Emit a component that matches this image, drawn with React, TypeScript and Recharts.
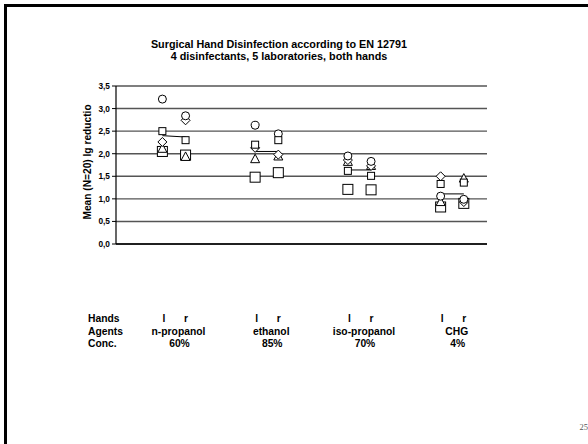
import React from 'react';
import { ScatterChart, Scatter, XAxis, YAxis, CartesianGrid } from 'recharts';

// ---- data ----
const agents = ['n-propanol', 'ethanol', 'iso-propanol', 'CHG'];
const concentrations = ['60%', '85%', '70%', '4%'];
const hands = ['l', 'r'];
const yTicks = [0, 0.5, 1, 1.5, 2, 2.5, 3, 3.5];

// values per agent: [left hand, right hand]
const labCircle = [[3.21, 2.84], [2.63, 2.44], [1.95, 1.83], [1.06, 0.99]];
const labSmallSquare = [[2.5, 2.3], [2.2, 2.3], [1.62, 1.51], [1.33, 1.36]];
const labDiamond = [[2.26, 2.74], [2.13, 1.98], [1.86, 1.73], [1.5, 0.93]];
const labTriangle = [[2.12, 1.94], [1.89, 1.95], [1.83, 1.74], [0.94, 1.46]];
const labBigSquare = [[2.05, 1.97], [1.48, 1.58], [1.21, 1.2], [0.82, 0.9]];
const meanValues = [[2.4, 2.37], [2.05, 2.05], [1.64, 1.64], [1.11, 1.11]];

// ---- layout ----
const HAND_POS = [0.5, 0.75];
const FONT = '"Liberation Sans", Arial, Helvetica, sans-serif';

const toPoints = (vals: number[][]) =>
  vals.flatMap((pair, gi) => pair.map((v, hi) => ({ x: gi + HAND_POS[hi], y: v })));

const segment = (gi: number) =>
  meanValues[gi].map((v, hi) => ({ x: gi + HAND_POS[hi], y: v }));

const S = { stroke: '#000', strokeWidth: 1, fill: '#fff' };

const CircleShape = (p: any) => <circle cx={p.cx} cy={p.cy} r={4} {...S} />;
const SmallSquareShape = (p: any) => (
  <rect x={p.cx - 3.5} y={p.cy - 3.5} width={7} height={7} {...S} />
);
const BigSquareShape = (p: any) => (
  <rect x={p.cx - 5} y={p.cy - 5} width={10} height={10} {...S} />
);
const DiamondShape = (p: any) => (
  <polygon
    points={`${p.cx},${p.cy - 4.5} ${p.cx + 4.5},${p.cy} ${p.cx},${p.cy + 4.5} ${p.cx - 4.5},${p.cy}`}
    {...S}
  />
);
const TriangleShape = (p: any) => (
  <polygon
    points={`${p.cx},${p.cy - 4.5} ${p.cx + 4.5},${p.cy + 4} ${p.cx - 4.5},${p.cy + 4}`}
    {...S}
  />
);
const NoShape = () => <g />;

const GroupTick = (p: any) => {
  const x = p.x;
  const gi = Math.round(p.payload.value - 0.625);
  const common = { fontFamily: FONT, fontWeight: 700, fontSize: 10.3, fill: '#000', textAnchor: 'middle' as const };
  return (
    <g>
      <text x={x - 10} y={322} {...common}>{hands[0]}</text>
      <text x={x + 12} y={322} {...common}>{hands[1]}</text>
      <text x={x + 4.5} y={334.5} {...common}>{agents[gi]}</text>
      <text x={x + 5.5} y={346.5} {...common}>{concentrations[gi]}</text>
    </g>
  );
};

export default function App() {
  return (
    <div style={{ position: 'absolute', left: 0, top: 0, width: 588, height: 444, overflow: 'hidden', background: '#fff' }}>
      <div
        style={{
          position: 'absolute', left: 4, top: 4, width: 800, height: 800,
          border: '3px solid #000', boxSizing: 'border-box',
        }}
      />
      <div style={{ position: 'absolute', left: 0, top: 0 }}>
        <ScatterChart width={588} height={444} margin={{ top: 86, right: 101, bottom: 100, left: 86 }}>
          <CartesianGrid horizontal vertical={false} stroke="#555" strokeWidth={1.4} />
          <XAxis
            type="number"
            dataKey="x"
            domain={[0, 4]}
            ticks={[0.625, 1.625, 2.625, 3.625]}
            tick={<GroupTick />}
            tickLine={false}
            tickSize={0}
            height={100}
            axisLine={{ stroke: '#000', strokeWidth: 1.4 }}
            interval={0}
          />
          <YAxis
            type="number"
            dataKey="y"
            domain={[0, 3.5]}
            ticks={yTicks}
            width={30}
            interval={0}
            tickFormatter={(v: number) => v.toFixed(1).replace('.', ',')}
            tick={{ fontFamily: FONT, fontWeight: 700, fontSize: 8.3, fill: '#000' }}
            tickLine={{ stroke: '#000' }}
            tickSize={4}
            axisLine={{ stroke: '#000', strokeWidth: 1.2 }}
          />
          {agents.map((a, gi) => (
            <Scatter
              key={a}
              data={segment(gi)}
              line={{ stroke: '#000', strokeWidth: 1 }}
              shape={NoShape}
              isAnimationActive={false}
            />
          ))}
          <Scatter data={toPoints(labBigSquare)} shape={BigSquareShape} isAnimationActive={false} />
          <Scatter data={toPoints(labTriangle)} shape={TriangleShape} isAnimationActive={false} />
          <Scatter data={toPoints(labDiamond)} shape={DiamondShape} isAnimationActive={false} />
          <Scatter data={toPoints(labCircle)} shape={CircleShape} isAnimationActive={false} />
          <Scatter data={toPoints(labSmallSquare)} shape={SmallSquareShape} isAnimationActive={false} />
        </ScatterChart>
      </div>
      <svg width={588} height={444} style={{ position: 'absolute', left: 0, top: 0, pointerEvents: 'none' }}>
        <g fontFamily={FONT} fontWeight={700} fill="#000">
          <text x={279} y={48} fontSize={10.8} textAnchor="middle">
            Surgical Hand Disinfection according to EN 12791
          </text>
          <text x={279} y={59.5} fontSize={10.8} textAnchor="middle">
            4 disinfectants, 5 laboratories, both hands
          </text>
          <text
            x={0}
            y={0}
            fontSize={10.2}
            textAnchor="middle"
            transform="translate(91,162) rotate(-90)"
          >
            Mean (N=20) lg reductio
          </text>
          <text x={88} y={322} fontSize={10.3}>Hands</text>
          <text x={88} y={334.5} fontSize={10.3}>Agents</text>
          <text x={88} y={346.5} fontSize={10.3}>Conc.</text>
        </g>
        <text x={579.5} y={430} fontSize={8.5} fill="#555" fontFamily='"Liberation Serif", "Times New Roman", serif'>
          25
        </text>
      </svg>
    </div>
  );
}
